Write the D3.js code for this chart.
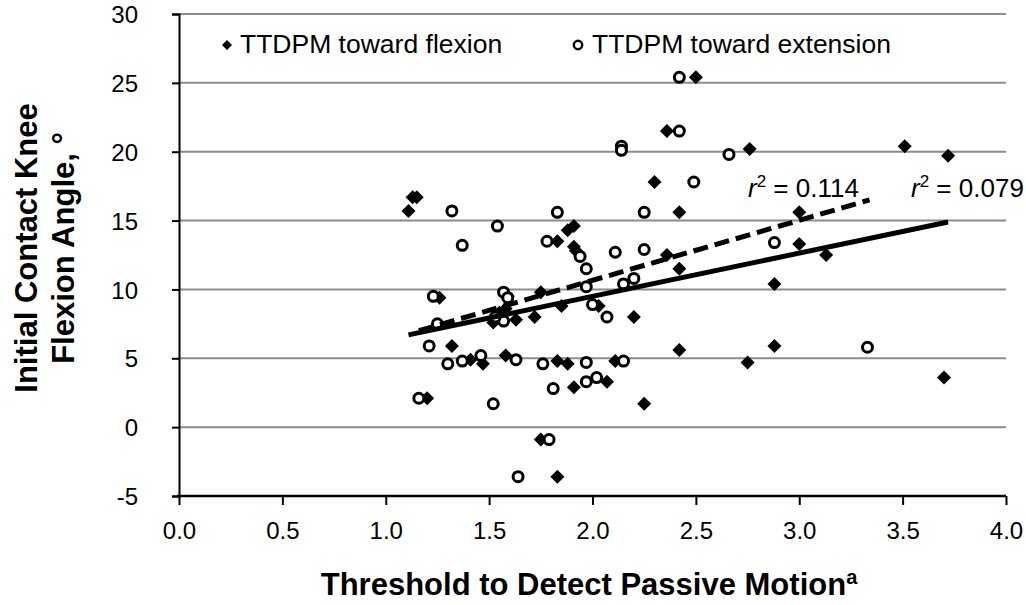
<!DOCTYPE html>
<html>
<head>
<meta charset="utf-8">
<script src="https://cdn.jsdelivr.net/npm/d3@7"></script>
<style>
  html, body { margin: 0; padding: 0; background: #fff; }
  svg { display: block; }
  text { font-family: "Liberation Sans", Arial, Helvetica, sans-serif; fill: #000; }
</style>
</head>
<body>
<svg id="chart" width="1026" height="605"></svg>
<script>
// ---- data ----
const xTicks = [0.0, 0.5, 1.0, 1.5, 2.0, 2.5, 3.0, 3.5, 4.0];
const yTicks = [-5, 0, 5, 10, 15, 20, 25, 30];

const flexionX = [1.11, 1.13, 1.15, 1.26, 1.32, 1.20, 1.41, 1.47, 1.52, 1.55, 1.58, 1.59, 1.58, 1.63, 1.72, 1.75, 1.75, 1.83, 1.83, 1.83, 1.85, 1.88, 1.88, 1.91, 1.91, 1.92, 1.91, 2.03, 2.07, 2.11, 2.20, 2.25, 2.30, 2.36, 2.36, 2.42, 2.42, 2.42, 2.50, 2.76, 2.75, 2.88, 2.88, 3.00, 3.00, 3.13, 3.51, 3.72, 3.70];
const flexionY = [15.7, 16.7, 16.7, 9.4, 5.9, 2.1, 4.9, 4.6, 7.6, 8.3, 8.6, 9.5, 5.2, 7.8, 8.0, 9.8, -0.9, -3.6, 4.8, 13.5, 8.8, 4.6, 14.3, 14.6, 13.1, 12.8, 2.9, 8.8, 3.3, 4.8, 8.0, 1.7, 17.8, 21.5, 12.5, 15.6, 11.5, 5.6, 25.4, 20.2, 4.7, 10.4, 5.9, 15.6, 13.3, 12.5, 20.4, 19.7, 3.6];

const extensionX = [1.16, 1.21, 1.23, 1.25, 1.30, 1.32, 1.37, 1.37, 1.46, 1.52, 1.54, 1.57, 1.59, 1.57, 1.63, 1.64, 1.76, 1.78, 1.79, 1.81, 1.83, 1.94, 1.97, 1.97, 1.97, 1.97, 2.00, 2.02, 2.07, 2.11, 2.15, 2.15, 2.14, 2.14, 2.20, 2.25, 2.25, 2.42, 2.42, 2.49, 2.66, 2.88, 3.33, 1.53];
const extensionY = [2.1, 5.9, 9.5, 7.5, 4.6, 15.7, 13.2, 4.8, 5.2, 1.7, 14.6, 9.8, 9.4, 7.7, 4.9, -3.6, 4.6, 13.5, -0.9, 2.8, 15.6, 12.4, 11.5, 10.2, 4.7, 3.3, 8.9, 3.6, 8.0, 12.7, 10.4, 4.8, 20.4, 20.1, 10.8, 15.6, 12.9, 25.4, 21.5, 17.8, 19.8, 13.4, 5.8, 8.0];

// trend line endpoints
const flexionFitX = [1.11, 3.72];
const flexionFitY = [6.7, 14.9];
const extensionFitX = [1.16, 3.34];
const extensionFitY = [7.0, 16.5];

const legendLabels = ["TTDPM toward flexion", "TTDPM toward extension"];
const r2Labels = ["0.114", "0.079"];

// ---- layout ----
const svg = d3.select("#chart");
const x = d3.scaleLinear().domain([0, 4]).range([179, 1006]);
const y = d3.scaleLinear().domain([-5, 30]).range([496, 14]);

// gridlines
svg.append("g").selectAll("line")
  .data(yTicks.filter(d => d > -5))
  .join("line")
  .attr("x1", x(0)).attr("x2", x(4))
  .attr("y1", d => y(d)).attr("y2", d => y(d))
  .attr("stroke", "#8c8c8c").attr("stroke-width", 2);

// y axis
const yAxis = d3.axisLeft(y).tickValues(yTicks).tickSize(7).tickPadding(34).tickFormat(d => String(d));
const gy = svg.append("g").attr("transform", `translate(${x(0)},0)`).call(yAxis);
gy.select(".domain").attr("stroke", "#000").attr("stroke-width", 2);
gy.selectAll(".tick line").attr("stroke", "#000").attr("stroke-width", 2);
gy.selectAll(".tick text").attr("font-size", 24).attr("font-family", "'Liberation Sans', Arial, sans-serif").attr("dy", "0.36em");

// x axis
const xAxis = d3.axisBottom(x).tickValues(xTicks).tickSize(9).tickPadding(17).tickFormat(d3.format(".1f"));
const gx = svg.append("g").attr("transform", `translate(0,${y(-5)})`).call(xAxis);
gx.select(".domain").attr("stroke", "#000").attr("stroke-width", 2.5).attr("d", `M${x(0) - 2},0H${x(4)}`);
gx.selectAll(".tick line").attr("stroke", "#000").attr("stroke-width", 2);
gx.selectAll(".tick text").attr("font-size", 24).attr("font-family", "'Liberation Sans', Arial, sans-serif");

// points
const diamond = s => `M0,${-s}L${s},0L0,${s}L${-s},0Z`;
const flex = flexionX.map((v, i) => ({ x: v, y: flexionY[i] }));
const ext = extensionX.map((v, i) => ({ x: v, y: extensionY[i] }));

svg.append("g").selectAll("path")
  .data(flex).join("path")
  .attr("d", diamond(7))
  .attr("transform", d => `translate(${x(d.x)},${y(d.y)})`)
  .attr("fill", "#000");

svg.append("g").selectAll("circle")
  .data(ext).join("circle")
  .attr("cx", d => x(d.x)).attr("cy", d => y(d.y)).attr("r", 5)
  .attr("fill", "#fff").attr("stroke", "#000").attr("stroke-width", 3);

// trend lines
svg.append("line")
  .attr("x1", x(flexionFitX[0])).attr("y1", y(flexionFitY[0]))
  .attr("x2", x(flexionFitX[1])).attr("y2", y(flexionFitY[1]))
  .attr("stroke", "#000").attr("stroke-width", 5);
svg.append("line")
  .attr("x1", x(extensionFitX[0])).attr("y1", y(extensionFitY[0]))
  .attr("x2", x(extensionFitX[1])).attr("y2", y(extensionFitY[1]))
  .attr("stroke", "#000").attr("stroke-width", 5).attr("stroke-dasharray", "15,7");

// legend
svg.append("path").attr("d", diamond(5)).attr("transform", "translate(227,45)").attr("fill", "#000");
svg.append("text").attr("x", 240).attr("y", 53).attr("font-size", 26.5).text(legendLabels[0]);
svg.append("circle").attr("cx", 578).attr("cy", 45).attr("r", 4.2).attr("fill", "#fff").attr("stroke", "#000").attr("stroke-width", 2.4);
svg.append("text").attr("x", 592).attr("y", 53).attr("font-size", 26.5).text(legendLabels[1]);

// r² labels
const r2pos = [748, 911];
r2Labels.forEach((lab, i) => {
  const t = svg.append("text").attr("x", r2pos[i]).attr("y", 197).attr("font-size", 26);
  t.append("tspan").attr("font-style", "italic").text("r");
  t.append("tspan").attr("font-size", 17).attr("dy", -10).text("2");
  t.append("tspan").attr("dy", 10).text(" = " + lab);
});

// axis titles
svg.append("text")
  .attr("transform", "translate(37,248) rotate(-90)")
  .attr("text-anchor", "middle").attr("font-size", 31).attr("font-weight", "bold")
  .text("Initial Contact Knee");
svg.append("text")
  .attr("transform", "translate(74,248) rotate(-90)")
  .attr("text-anchor", "middle").attr("font-size", 31).attr("font-weight", "bold")
  .text("Flexion Angle, °");

const xt = svg.append("text")
  .attr("x", 589).attr("y", 595)
  .attr("text-anchor", "middle").attr("font-size", 31).attr("font-weight", "bold");
xt.append("tspan").text("Threshold to Detect Passive Motion");
xt.append("tspan").attr("font-size", 20).attr("dy", -11).text("a");
</script>
</body>
</html>
